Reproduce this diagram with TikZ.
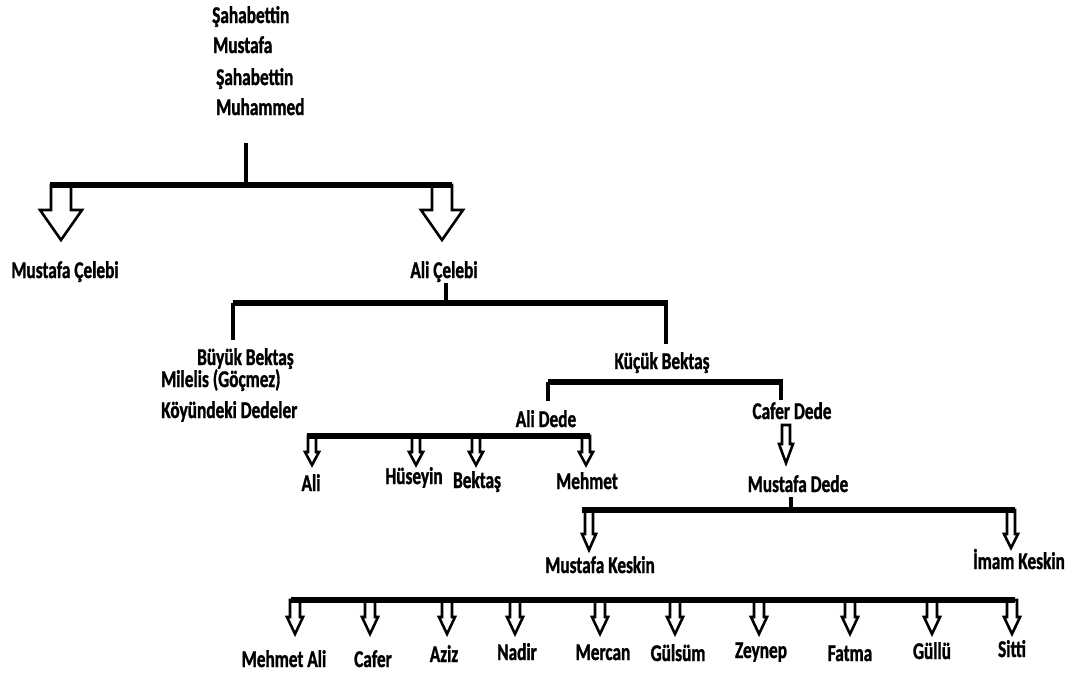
\documentclass[tikz,border=0pt]{standalone}
\usepackage{fontspec}
\setmainfont{Carlito}[FakeStretch=0.72, BoldFeatures={FakeBold=1.2}]
\usetikzlibrary{positioning}

\begin{document}
\begin{tikzpicture}[
        x=1pt, y=-1pt,
        N/.style={inner sep=0pt, anchor=base, font=\fontsize{24}{24}\selectfont\bfseries},
        barline/.style={line width=6pt},
        stemline/.style={line width=4pt},
        pics/down/.style n args={4}{code={
            \draw[line width=2.6pt, fill=white]
                (-#1,0) -- (-#1,#3) -- (-#2,#3) -- (0,#4) -- (#2,#3) -- (#1,#3) -- (#1,0) -- cycle;
        }}
    ]
    \useasboundingbox (0,0) rectangle (1073,675);

    % names
    \node[N, anchor=base west] (sah1)  at (212,23)  {Şahabettin};
    \node[N, anchor=base west] (must)  at (213,53)  {Mustafa};
    \node[N, anchor=base west] (sah2)  at (216,85)  {Şahabettin};
    \node[N, anchor=base west] (muh)   at (216,115) {Muhammed};

    \node[N] (mcel)  at (65,278)  {Mustafa Çelebi};
    \node[N] (acel)  at (444,278) {Ali Çelebi};

    \node[N, anchor=base west] (buyuk) at (197,365) {Büyük Bektaş};
    \node[N, anchor=base west] (milel) at (161,387) {Milelis (Göçmez)};
    \node[N, anchor=base west] (koy)   at (161,418) {Köyündeki Dedeler};
    \node[N] (kucuk) at (662,369) {Küçük Bektaş};

    \node[N] (adede) at (546,427) {Ali Dede};
    \node[N] (cdede) at (792,419) {Cafer Dede};

    \node[N] (ali)   at (311,491) {Ali};
    \node[N] (hus)   at (414,484) {Hüseyin};
    \node[N] (bek)   at (477,488) {Bektaş};
    \node[N] (meh)   at (587,489) {Mehmet};

    \node[N] (mdede) at (798,492) {Mustafa Dede};
    \node[N] (mkes)  at (600,573) {Mustafa Keskin};
    \node[N] (ikes)  at (1019,569) {İmam Keskin};

    \node[N] (mali)  at (284,667) {Mehmet Ali};
    \node[N] (caf)   at (373,667) {Cafer};
    \node[N] (aziz)  at (444,662) {Aziz};
    \node[N] (nadir) at (517,660) {Nadir};
    \node[N] (merc)  at (603,660) {Mercan};
    \node[N] (gul)   at (678,661) {Gülsüm};
    \node[N] (zey)   at (761,658) {Zeynep};
    \node[N] (fat)   at (850,661) {Fatma};
    \node[N] (gll)   at (932,659) {Güllü};
    \node[N] (sit)   at (1012,657) {Sitti};

    % bar ends
    \coordinate (r1)  at (246,143);
    \coordinate (b1l) at (50,185);   \coordinate (b1r) at (452,185);
    \coordinate (b2l) at (233,303);  \coordinate (b2r) at (668,303);
    \coordinate (b3l) at (548,382);  \coordinate (b3r) at (783,382);
    \coordinate (b4l) at (307,436);  \coordinate (b4r) at (590,436);
    \coordinate (b5l) at (582,510);  \coordinate (b5r) at (1015,510);
    \coordinate (b6l) at (291,600);  \coordinate (b6r) at (1015,600);

    % hollow arrows
    \pic at (61,185)  {down={10}{21}{25}{55}};
    \pic at (442,185) {down={10}{21}{25}{55}};

    \pic at (312,436) {down={4}{7}{16}{29}};
    \pic at (416,436) {down={4}{7}{16}{29}};
    \pic at (476,436) {down={4}{7}{16}{29}};
    \pic at (586,436) {down={4}{7}{16}{29}};

    \pic at (786,425) {down={4}{7}{19}{38}};

    \pic at (589,510)  {down={4}{7}{24}{40}};
    \pic at (1011,510) {down={4}{7}{24}{38}};

    \pic at (295,600)  {down={5}{8}{17}{34}};
    \pic at (370,600)  {down={5}{8}{17}{34}};
    \pic at (447,600)  {down={5}{8}{17}{34}};
    \pic at (515,600)  {down={5}{8}{17}{34}};
    \pic at (600,600)  {down={5}{8}{17}{34}};
    \pic at (675,600)  {down={5}{8}{17}{34}};
    \pic at (759,600)  {down={5}{8}{17}{34}};
    \pic at (850,600)  {down={5}{8}{17}{34}};
    \pic at (932,600)  {down={5}{8}{17}{34}};
    \pic at (1012,600) {down={5}{8}{17}{34}};

    % bars and stems
    \draw[barline] (b1l) -- (b1r);
    \draw[stemline] (r1) -- (r1 |- b1l);

    \draw[stemline] (446,283) -- (446,303);
    \draw[barline] (b2l) -- (b2r);
    \draw[stemline] (b2l) -- (233,340);
    \draw[stemline] (666,303) -- (666,344);

    \draw[barline] (b3l) -- (b3r);
    \draw[stemline] (b3l) -- (548,401);
    \draw[stemline] (781,382) -- (781,400);

    \draw[barline] (b4l) -- (b4r);

    \draw[stemline] (791,497) -- (791,510);
    \draw[barline] (b5l) -- (b5r);

    \draw[barline] (b6l) -- (b6r);
\end{tikzpicture}
\end{document}
